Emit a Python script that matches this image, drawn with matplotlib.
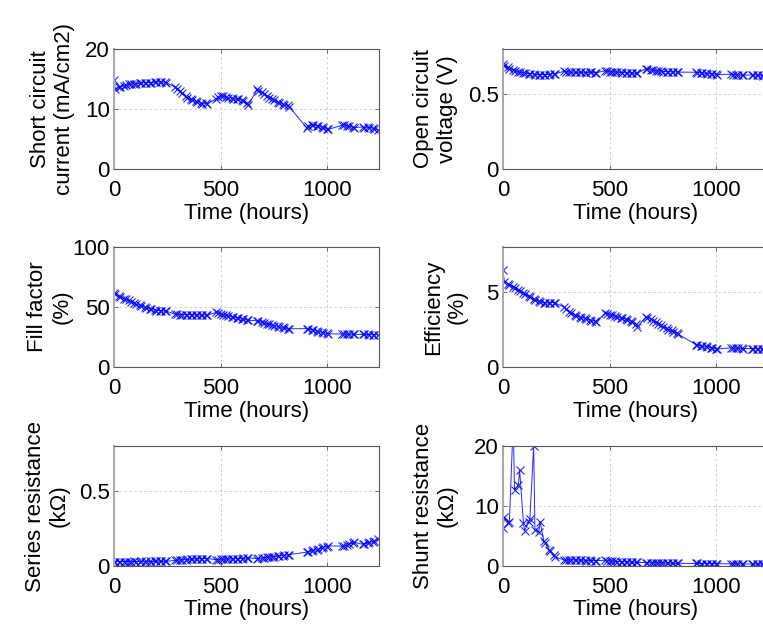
import matplotlib
matplotlib.use('Agg')
import matplotlib.pyplot as plt

plt.rcParams['font.family'] = ['Liberation Sans', 'DejaVu Sans']

# measurement times (hours), two readings per day
hours = [0, 6, 24, 30, 48, 54, 72, 78, 96, 102, 120, 126, 144, 150, 168, 174,
         192, 198, 216, 222, 240, 246,
         288, 294, 312, 318, 336, 342, 360, 366, 384, 390, 408, 414, 432, 438,
         480, 486, 504, 510, 528, 534, 552, 558, 576, 582, 600, 606, 624, 630,
         672, 678, 696, 702, 720, 726, 744, 750, 768, 774, 792, 798, 816, 822,
         904, 910, 928, 934, 952, 958, 976, 982, 1000, 1006,
         1072, 1078, 1096, 1102, 1120, 1126,
         1168, 1174, 1192, 1198, 1216, 1222, 1240]

jsc = [14.8, 13.4, 13.6, 13.7, 13.9, 14.0, 14.1, 14.1, 14.2, 14.2, 14.3, 14.3,
       14.4, 14.4, 14.4, 14.4, 14.5, 14.5, 14.5, 14.5, 14.5, 14.4,
       13.6, 13.3, 13.0, 12.6, 12.1, 11.8, 11.6, 11.5, 11.3, 11.1, 11.0, 10.9,
       11.0, 10.9,
       11.7, 12.0, 12.2, 12.1, 12.0, 11.9, 11.8, 11.7, 11.6, 11.7, 11.5, 11.3,
       11.0, 10.6,
       13.3, 13.0, 12.8, 12.5, 12.2, 11.9, 11.7, 11.5, 11.2, 11.0, 10.8, 10.7,
       10.6, 10.4,
       6.9, 7.2, 7.4, 7.3, 7.2, 7.1, 7.0, 6.9, 6.7, 6.6,
       7.3, 7.4, 7.2, 7.1, 7.0, 6.9,
       7.0, 6.9, 7.0, 6.9, 6.8, 6.7, 6.5]

voc = [0.700, 0.690, 0.680, 0.670, 0.660, 0.655, 0.650, 0.645, 0.640, 0.640,
       0.635, 0.635, 0.635, 0.630, 0.630, 0.630, 0.630, 0.630, 0.630, 0.635,
       0.635, 0.635,
       0.652, 0.648, 0.646, 0.645, 0.645, 0.644, 0.644, 0.645, 0.644, 0.643,
       0.645, 0.644, 0.643, 0.642,
       0.655, 0.652, 0.650, 0.648, 0.646, 0.645, 0.644, 0.643, 0.642, 0.641,
       0.640, 0.639, 0.638, 0.638,
       0.670, 0.665, 0.660, 0.658, 0.655, 0.653, 0.652, 0.650, 0.650, 0.649,
       0.648, 0.648, 0.647, 0.646,
       0.645, 0.643, 0.642, 0.640, 0.638, 0.636, 0.635, 0.633, 0.632, 0.630,
       0.632, 0.630, 0.628, 0.626, 0.625, 0.624,
       0.628, 0.627, 0.626, 0.625, 0.624, 0.623, 0.622]

ff = [62.0, 61.0, 59.5, 58.5, 57.0, 56.5, 55.5, 54.5, 53.5, 52.5, 51.5, 51.0,
      50.0, 49.0, 48.5, 48.0, 47.5, 47.0, 47.0, 46.8, 46.5, 46.5,
      44.0, 43.8, 43.7, 43.6, 43.5, 43.5, 43.6, 43.5, 43.4, 43.5, 43.4, 43.3,
      43.2, 43.2,
      45.5, 45.0, 44.3, 43.6, 43.0, 42.5, 42.0, 41.5, 41.0, 40.5, 40.0, 39.6,
      39.3, 39.0,
      38.5, 38.0, 37.3, 36.6, 36.0, 35.5, 35.0, 34.5, 34.0, 33.4, 33.0, 32.5,
      32.0, 31.8,
      32.0, 31.5, 31.0, 30.5, 30.0, 29.5, 29.0, 28.5, 28.0, 27.6,
      27.5, 27.4, 27.3, 27.3, 27.2, 27.2,
      27.2, 27.1, 27.1, 27.0, 27.0, 26.9, 26.9]

eff = [6.45, 5.70, 5.55, 5.45, 5.35, 5.25, 5.15, 5.05, 4.95, 4.85, 4.75, 4.65,
       4.55, 4.45, 4.40, 4.35, 4.30, 4.30, 4.25, 4.30, 4.30, 4.25,
       4.00, 3.85, 3.70, 3.60, 3.50, 3.40, 3.35, 3.30, 3.25, 3.20, 3.15, 3.10,
       3.05, 3.00,
       3.60, 3.55, 3.50, 3.45, 3.40, 3.35, 3.30, 3.25, 3.20, 3.15, 3.10, 3.00,
       2.85, 2.70,
       3.35, 3.30, 3.20, 3.10, 3.00, 2.90, 2.80, 2.70, 2.60, 2.50, 2.45, 2.35,
       2.30, 2.20,
       1.50, 1.45, 1.42, 1.40, 1.38, 1.35, 1.30, 1.27, 1.22, 1.20,
       1.28, 1.27, 1.26, 1.25, 1.24, 1.23,
       1.23, 1.22, 1.22, 1.21, 1.20, 1.20, 1.19]

r_series = [0.028, 0.030, 0.029, 0.030, 0.030, 0.029, 0.030, 0.030, 0.031,
            0.030, 0.030, 0.031, 0.030, 0.031, 0.031, 0.030, 0.031, 0.031,
            0.032, 0.031, 0.031, 0.032,
            0.037, 0.038, 0.040, 0.041, 0.043, 0.044, 0.045, 0.046, 0.047,
            0.048, 0.048, 0.049, 0.050, 0.050,
            0.042, 0.043, 0.044, 0.045, 0.046, 0.047, 0.047, 0.048, 0.049,
            0.050, 0.050, 0.051, 0.052, 0.053,
            0.050, 0.051, 0.053, 0.055, 0.057, 0.059, 0.061, 0.063, 0.065,
            0.067, 0.069, 0.071, 0.073, 0.076,
            0.092, 0.095, 0.100, 0.104, 0.108, 0.112, 0.118, 0.124, 0.130, 0.134,
            0.132, 0.136, 0.140, 0.145, 0.152, 0.158,
            0.145, 0.148, 0.152, 0.157, 0.163, 0.170, 0.180]

r_shunt = [6.4, 8.1, 7.1, 7.4, 24.0, 12.7, 13.5, 16.0, 7.2, 5.9, 7.4, 7.8,
           20.0, 6.0, 5.7, 7.4, 4.1, 3.9, 2.7, 2.5, 1.8, 1.5,
           1.00, 0.95, 1.00, 1.05, 1.00, 1.00, 0.95, 1.00, 0.95, 0.90, 0.95,
           0.90, 0.90, 0.90,
           0.95, 0.90, 0.85, 0.80, 0.80, 0.75, 0.75, 0.70, 0.70, 0.70, 0.65,
           0.65, 0.60, 0.60,
           0.55, 0.55, 0.52, 0.52, 0.50, 0.50, 0.50, 0.48, 0.48, 0.47, 0.46,
           0.46, 0.45, 0.45,
           0.42, 0.42, 0.41, 0.41, 0.40, 0.40, 0.40, 0.39, 0.39, 0.38,
           0.36, 0.36, 0.35, 0.35, 0.35, 0.34,
           0.32, 0.32, 0.31, 0.31, 0.30, 0.30, 0.30]

panels = [
    (jsc, 'Short circuit\ncurrent (mA/cm2)', 20, [0, 10, 20], ['0', '10', '20']),
    (voc, 'Open circuit\nvoltage (V)', 0.8, [0, 0.5], ['0', '0.5']),
    (ff, 'Fill factor\n(%)', 100, [0, 50, 100], ['0', '50', '100']),
    (eff, 'Efficiency\n(%)', 8, [0, 5], ['0', '5']),
    (r_series, 'Series resistance\n(k\u03a9)', 0.8, [0, 0.5], ['0', '0.5']),
    (r_shunt, 'Shunt resistance\n(k\u03a9)', 20, [0, 10, 20], ['0', '10', '20']),
]
# right edge of each y label, in axes fraction
label_x = [-0.147, -0.170, -0.158, -0.132, -0.166, -0.170]

W, H = 763, 626
fig = plt.figure(figsize=(W / 100, H / 100), dpi=100)

col_left = [114, 503]
row_bottom = [169, 367, 566]
ax_w, ax_h = 265, 120

for i, (vals, label, ytop, yt, ytl) in enumerate(panels):
    r, c = divmod(i, 2)
    ax = fig.add_axes([col_left[c] / W, 1 - row_bottom[r] / H, ax_w / W, ax_h / H])
    ax.plot(hours, vals, color='blue', lw=0.7, marker='x', ms=5.5, mew=0.8,
            alpha=0.85)
    ax.set_xlim(0, 1244)
    ax.set_ylim(0, ytop)
    ax.set_xticks([0, 500, 1000])
    ax.set_yticks(yt)
    ax.set_yticklabels(ytl)
    ax.grid(True, color='#c8c8c8', lw=0.6, linestyle=(0, (3, 3)))
    ax.tick_params(direction='in', length=3, width=0.6, labelsize=16,
                   top=True, right=True, color='#555555')
    ax.tick_params(axis='x', pad=8)
    ax.tick_params(axis='y', pad=3)
    for side in ['top', 'right', 'bottom']:
        ax.spines[side].set_color('#555555')
        ax.spines[side].set_linewidth(0.8)
    ax.spines['left'].set_color('#aaaaaa')
    ax.spines['left'].set_linewidth(1.5)
    ax.set_xlabel('Time (hours)', fontsize=16, labelpad=1)
    ax.set_ylabel(label, fontsize=16, linespacing=1.2)
    ax.yaxis.set_label_coords(label_x[i], 0.5)

fig.savefig('out.png', dpi=100)
